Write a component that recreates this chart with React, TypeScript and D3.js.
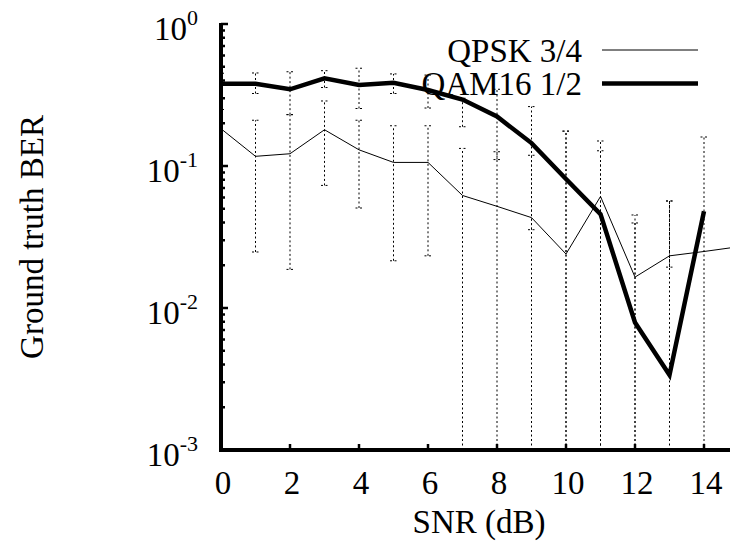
import React from "react";
import * as d3 from "d3";

const snrQpsk = [0, 1, 2, 3, 4, 5, 6, 7, 8, 9, 10, 11, 12, 13, 14, 15];
const qpskBer = [0.183, 0.117, 0.122, 0.18, 0.13, 0.106, 0.106, 0.062, 0.052, 0.0433, 0.024, 0.061, 0.0165, 0.0233, 0.025, 0.027];
const snrQam = [0, 1, 2, 3, 4, 5, 6, 7, 8, 9, 10, 11, 12, 13, 14];
const qamBer = [0.38, 0.38, 0.347, 0.414, 0.372, 0.385, 0.343, 0.294, 0.223, 0.145, 0.081, 0.0458, 0.0079, 0.00337, 0.048];

// error bar bounds (0 = lower bound below axis)
const qamLo = [0.3, 0.324, 0.23, 0.357, 0.254, 0.324, 0.256, 0.189, 0.111, 0, 0, 0, 0, 0, 0];
const qamHi = [0.45, 0.452, 0.461, 0.469, 0.488, 0.445, 0.437, 0.3, 0.347, 0.262, 0.176, 0.15, 0.0452, 0.0567, 0.16];
const qpskLo = [0.03, 0.0248, 0.0187, 0.073, 0.0506, 0.0215, 0.0233, 0, 0, 0.0356, 0, 0, 0, 0.0194, 0.025];
const qpskHi = [0.25, 0.21, 0.23, 0.287, 0.21, 0.192, 0.192, 0.133, 0.126, 0.119, 0.176, 0.128, 0.0397, 0.0567, 0.025];

const xTicks = [0, 2, 4, 6, 8, 10, 12, 14];
const yExps = [0, -1, -2, -3];
const legendLabels = ["QPSK 3/4", "QAM16 1/2"];

const W = 730;
const H = 552;
const FONT = "'Liberation Serif', 'Times New Roman', serif";

export default function App() {
  const x = d3.scaleLinear().domain([0, 15]).range([221, 738.5]);
  const y = d3.scaleLog().domain([1e-3, 1]).range([450, 24]);
  const yc = (v: number) => y(Math.max(v, 1e-3));

  const line = d3
    .line<[number, number]>()
    .x((d) => x(d[0]))
    .y((d) => y(d[1]));

  const qpskPts = snrQpsk.map((s, i) => [s, qpskBer[i]] as [number, number]);
  const qamPts = snrQam.map((s, i) => [s, qamBer[i]] as [number, number]);

  const minorTicks: number[] = [];
  for (let e = -3; e < 0; e++) {
    for (let m = 2; m <= 9; m++) minorTicks.push(m * Math.pow(10, e));
  }

  const dash = "2,2.5";
  const bars = (xs: number[], lo: number[], hi: number[], key: string) =>
    xs.map((s, i) => {
      if (lo[i] === hi[i]) return null;
      const cx = x(s);
      const y1 = yc(lo[i]);
      const y2 = yc(hi[i]);
      return (
        <g key={key + i} stroke="#000" strokeWidth={1} strokeDasharray={dash} fill="none">
          <line x1={cx} x2={cx} y1={y1} y2={y2} />
          <line x1={cx - 3.5} x2={cx + 3.5} y1={y2} y2={y2} />
          {lo[i] > 1e-3 && <line x1={cx - 3.5} x2={cx + 3.5} y1={y1} y2={y1} />}
        </g>
      );
    });

  return (
    <svg
      width={W}
      height={H}
      style={{ position: "absolute", left: 0, top: 0, background: "#fff" }}
      fontFamily={FONT}
    >
      <defs>
        <clipPath id="plot">
          <rect x={219} y={20} width={W - 219} height={432} />
        </clipPath>
      </defs>

      {/* error bars */}
      <g clipPath="url(#plot)">
        {bars(snrQam, qamLo, qamHi, "qe")}
        {bars(snrQpsk.slice(0, 15), qpskLo, qpskHi, "pe")}
      </g>

      {/* data lines */}
      <g clipPath="url(#plot)" fill="none" strokeLinejoin="miter">
        <path d={line(qpskPts) || ""} stroke="#000" strokeWidth={1} />
        <path d={line(qamPts) || ""} stroke="#000" strokeWidth={4.5} />
      </g>

      {/* y ticks */}
      <g stroke="#000" strokeWidth={2.5}>
        {minorTicks.map((v, i) => (
          <line key={"mn" + i} x1={221} x2={225} y1={y(v)} y2={y(v)} />
        ))}
        {yExps.map((e) => (
          <line key={"mj" + e} x1={221} x2={228} y1={y(Math.pow(10, e))} y2={y(Math.pow(10, e))} />
        ))}
        {xTicks.map((t) => (
          <line key={"xt" + t} x1={x(t)} x2={x(t)} y1={450} y2={444} />
        ))}
      </g>

      {/* axes */}
      <line x1={221} x2={221} y1={23} y2={452} stroke="#000" strokeWidth={4} />
      <line x1={219} x2={W} y1={450} y2={450} stroke="#000" strokeWidth={4} />

      {/* y tick labels */}
      {yExps.map((e) => (
        <text
          key={"yl" + e}
          x={198}
          y={y(Math.pow(10, e)) + 16}
          textAnchor="end"
          fontSize={33}
          fill="#000"
        >
          10
          <tspan fontSize={22} dy={-15}>
            {e === 0 ? "0" : "-" + Math.abs(e)}
          </tspan>
        </text>
      ))}

      {/* x tick labels */}
      {xTicks.map((t) => (
        <text key={"xl" + t} x={x(t) + 2} y={494} textAnchor="middle" fontSize={33} fill="#000">
          {t}
        </text>
      ))}

      {/* axis titles */}
      <text x={479} y={533} textAnchor="middle" fontSize={33} fill="#000">
        SNR (dB)
      </text>
      <text
        transform="translate(43,237) rotate(-90)"
        textAnchor="middle"
        fontSize={33}
        fill="#000"
      >
        Ground truth BER
      </text>

      {/* legend */}
      <line x1={602} x2={698} y1={50} y2={50} stroke="#000" strokeWidth={1} />
      <line x1={602} x2={698} y1={83.5} y2={83.5} stroke="#000" strokeWidth={4.5} />
      <text x={582} y={62} textAnchor="end" fontSize={33} fill="#000">
        {legendLabels[0]}
      </text>
      <text x={582} y={95} textAnchor="end" fontSize={33} fill="#000">
        {legendLabels[1]}
      </text>
    </svg>
  );
}
